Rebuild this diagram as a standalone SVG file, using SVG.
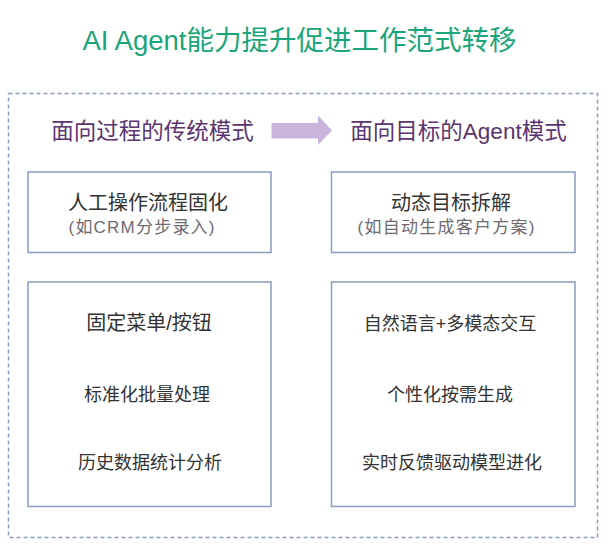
<svg xmlns="http://www.w3.org/2000/svg" width="611" height="558" viewBox="0 0 611 558">
<style>
text{font-family:"Liberation Sans","Noto Sans CJK SC",sans-serif;text-anchor:middle}
.title{font-size:27.5px;fill:#1ba57b}
.head{font-size:22.5px;fill:#5b3470}
.main{font-size:20px;fill:#333333}
.item{font-size:18px;fill:#333333}
.sub{font-size:17px;fill:#6e6a70}
.box{fill:#ffffff;stroke:#8a9bc0;stroke-width:1.5}
.frame{fill:none;stroke:#8a9bc0;stroke-width:1.5;stroke-dasharray:4 3}
</style>
<rect width="611" height="558" fill="#ffffff"/>
<g id="title"><text class="title" x="299.5" y="49.5">AI Agent能力提升促进工作范式转移</text></g>
<g id="frame"><rect class="frame" x="8.5" y="93.5" width="589" height="444"/></g>
<g id="head-left"><text class="head" x="152.5" y="138.5">面向过程的传统模式</text></g>
<g id="head-right"><text class="head" x="458.5" y="138.5">面向目标的Agent模式</text></g>
<g id="connectors"><polygon points="271.5,123 318,123 318,115.5 332,130.5 318,145 318,138.5 271.5,138.5" fill="#cbb4dc"/></g>
<g id="box-left-1">
<rect class="box" x="28" y="172" width="243" height="80.5"/>
<text class="main" x="148" y="209.5">人工操作流程固化</text>
<text class="sub" x="141.5" y="232.5" textLength="146" lengthAdjust="spacing">(如CRM分步录入)</text>
</g>
<g id="box-right-1">
<rect class="box" x="331.5" y="172" width="243.5" height="80.5"/>
<text class="main" x="451" y="209.5">动态目标拆解</text>
<text class="sub" x="446" y="232.5" textLength="177" lengthAdjust="spacing">(如自动生成客户方案)</text>
</g>
<g id="box-left-2">
<rect class="box" x="28" y="282" width="243" height="224.5"/>
<text class="main" x="149" y="330">固定菜单/按钮</text>
<text class="item" x="147" y="400.5">标准化批量处理</text>
<text class="item" x="150" y="468.5">历史数据统计分析</text>
</g>
<g id="box-right-2">
<rect class="box" x="331.5" y="282" width="243.5" height="224.5"/>
<text class="item" x="450" y="329.5">自然语言+多模态交互</text>
<text class="item" x="450" y="400.5">个性化按需生成</text>
<text class="item" x="452" y="468.5">实时反馈驱动模型进化</text>
</g>
</svg>
